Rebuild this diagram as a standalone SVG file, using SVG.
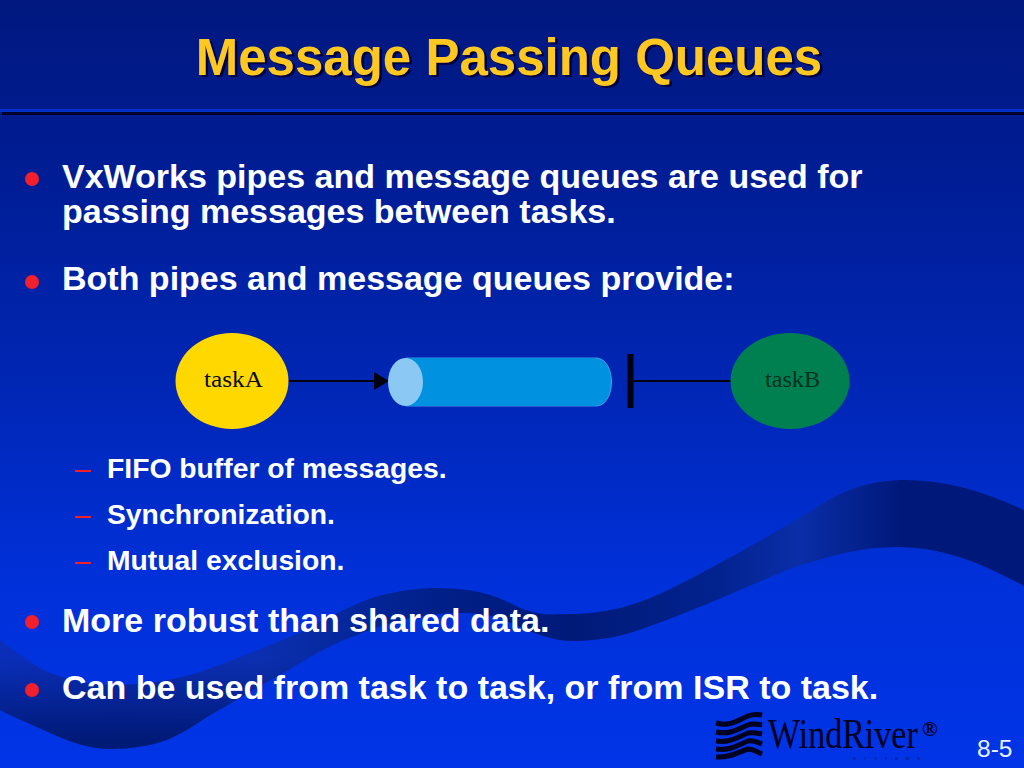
<svg xmlns="http://www.w3.org/2000/svg" width="1024" height="768" viewBox="0 0 1024 768">
<style>
.b{font-family:"Liberation Sans",Arial,sans-serif;font-weight:700;fill:#fff;font-size:34px}
.s{font-family:"Liberation Sans",Arial,sans-serif;font-weight:700;fill:#fff;font-size:28.300px}
.t{font-family:"Liberation Serif","Times New Roman",serif;font-size:24px;fill:#0a0a20}
.d{fill:#f2202c}
.k{fill:none;stroke:#000010;stroke-width:2.2}
.w{fill:none;stroke:#000020;stroke-width:5}
</style>
<defs>
<linearGradient id="bg" x1="0" y1="0" x2="0" y2="1">
<stop offset="0" stop-color="#00187f"/><stop offset=".2" stop-color="#001c92"/><stop offset=".5" stop-color="#0026b4"/><stop offset=".75" stop-color="#0030d8"/><stop offset="1" stop-color="#0034e6"/>
</linearGradient>
<linearGradient id="wv" gradientUnits="userSpaceOnUse" x1="0" y1="0" x2="1024" y2="0">
<stop offset="0" stop-color="#0a2eb8"/><stop offset=".12" stop-color="#0a2cb0"/><stop offset=".25" stop-color="#0b2fb0"/><stop offset=".43" stop-color="#001f88"/><stop offset=".56" stop-color="#001a78"/><stop offset=".7" stop-color="#02228e"/><stop offset=".78" stop-color="#0a2ea8"/><stop offset=".88" stop-color="#00187a"/><stop offset="1" stop-color="#00187a"/>
</linearGradient>
<linearGradient id="wo" gradientUnits="userSpaceOnUse" x1="0" y1="660" x2="0" y2="740">
<stop offset="0" stop-color="#001a78" stop-opacity="0"/><stop offset="1" stop-color="#001a78" stop-opacity="1"/>
</linearGradient>
<path id="wp" d="M0 640C20 655 35 666 50 673C75 682 95 685 117 685C150 684 175 680 200 672C235 660 265 647 300 633C325 620 350 605 375 597C400 590 420 588 439 588C470 589 490 592 518 607C540 617 555 614 574 614C610 613 640 605 680 584C720 564 770 535 810 512C840 490 870 480 907 480C950 481 985 492 1024 510V586C985 565 945 547 896 547C860 547 830 556 792 568C755 583 700 608 653 625C625 636 600 641 574 641C550 641 530 632 500 618C480 612 450 612 429 615C405 618 385 624 357 635C335 643 320 651 300 663C280 675 255 689 233 702C225 707 215 712 207 717C195 725 183 733 167 740C150 746 130 749 110 749C90 749 70 742 50 733C33 725 15 718 0 710Z"/>
<marker id="ah" markerUnits="userSpaceOnUse" markerWidth="16" markerHeight="18" refX="15" refY="9" orient="auto"><path d="M0 0L15 9L0 18Z" fill="#000010"/></marker>
</defs>
<rect width="1024" height="768" fill="url(#bg)"/>
<use id="wave" href="#wp" fill="url(#wv)"/>
<use id="wave-shade" href="#wp" fill="url(#wo)"/>
<rect id="rule-blue" x="0" y="109" width="1024" height="3" fill="#0030cc"/>
<rect id="rule-black" x="2" y="112" width="1022" height="3" fill="#00002a"/>
<g id="title">
<text x="509" y="75" text-anchor="middle" fill="#ffc820" style="font-family:'Liberation Sans',Arial,sans-serif;font-weight:700;font-size:51px;text-shadow:2.500px 2px 0 #000040">Message Passing Queues</text>
</g>
<g id="bullets">
<circle class="d" cx="32" cy="179" r="7"/><circle class="d" cx="32" cy="282" r="7"/><circle class="d" cx="32" cy="622" r="7"/><circle class="d" cx="32" cy="690" r="7"/>
<rect class="d" x="75" y="470" width="16" height="2"/><rect class="d" x="75" y="516" width="16" height="2"/><rect class="d" x="75" y="562" width="16" height="2"/>
</g>
<g id="body">
<text class="b" x="62" y="188">VxWorks pipes and message queues are used for</text>
<text class="b" x="62" y="223">passing messages between tasks.</text>
<text class="b" x="62" y="290">Both pipes and message queues provide:</text>
<text class="s" x="107" y="478">FIFO buffer of messages.</text>
<text class="s" x="107" y="524">Synchronization.</text>
<text class="s" x="107" y="570">Mutual exclusion.</text>
<text class="b" x="62" y="632">More robust than shared data.</text>
<text class="b" x="62" y="699">Can be used from task to task, or from ISR to task.</text>
</g>
<g id="connectors">
<line class="k" x1="288" y1="381" x2="389" y2="381" marker-end="url(#ah)"/>
<line class="k" x1="633" y1="381" x2="731" y2="381"/>
</g>
<g id="taskA"><ellipse cx="232" cy="381" rx="56.500" ry="48" fill="#ffd800"/><text class="t" x="233.500" y="387" text-anchor="middle" textLength="59" lengthAdjust="spacingAndGlyphs">taskA</text></g>
<g id="queue">
<path d="M406 358H596C606 358 611.500 370 611.500 382C611.500 394 606 406 596 406H406Z" fill="#0092e0" stroke="#50b0f0" stroke-width=".8"/>
<rect x="406" y="358" width="190" height="48" fill="#0092e0"/>
<ellipse cx="405.500" cy="382" rx="17.500" ry="24" fill="#8cc8f4"/>
</g>
<g id="blocker"><rect x="627.500" y="354" width="6" height="54" fill="#000010"/></g>
<g id="taskB"><ellipse cx="790" cy="381" rx="59.500" ry="48" fill="#008050"/><text class="t" x="792.500" y="387" text-anchor="middle" textLength="55" lengthAdjust="spacingAndGlyphs" style="fill:#00301f">taskB</text></g>
<g id="logo">
<path class="w" d="M716 723C730 727 738 720 748 716C753 714 757 714 762 715"/>
<path class="w" d="M716 732C730 735 738 729 748 725C753 723 757 724 762 725"/>
<path class="w" d="M716 741C730 743 738 737 748 733C753 732 757 733 762 734"/>
<path class="w" d="M716 749C730 751 738 745 748 741C753 740 757 742 762 744"/>
<path class="w" d="M716 757C730 758 738 752 748 749C753 749 757 752 762 754"/>
<text transform="translate(768 748) scale(.81 1)" x="0" y="0" style="font-family:'Liberation Serif',serif;font-size:42px;fill:#000020">WindRiver</text>
<text x="922" y="736" style="font-family:'Liberation Serif',serif;font-weight:700;font-size:21px;fill:#000020">®</text>
<text x="853" y="760" textLength="67" style="font-family:'Liberation Sans',sans-serif;font-size:4px;fill:#001060">SYSTEMS</text>
</g>
<text id="page" x="977" y="757" style="font-family:'Liberation Sans',Arial,sans-serif;font-size:24.500px;fill:#e8f0ff">8-5</text>
</svg>
